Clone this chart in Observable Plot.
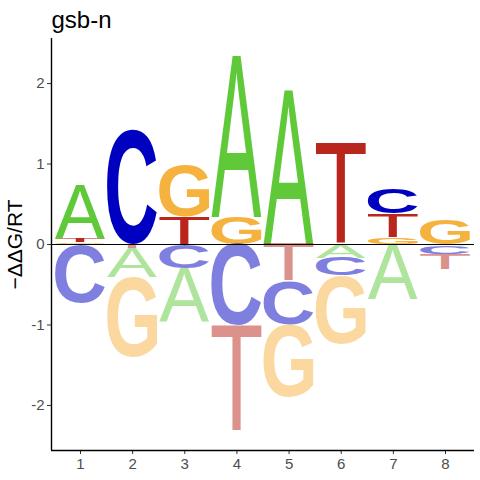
<!DOCTYPE html>
<html><head><meta charset="utf-8">
<script src="https://cdn.jsdelivr.net/npm/d3@7"></script>
<script src="https://cdn.jsdelivr.net/npm/@observablehq/plot@0.6"></script>
<style>body{margin:0;background:#fff} #chart{width:480px;height:480px}</style>
</head><body><div id="chart"></div>
<script>
const title = "gsb-n";
const yLabel = "\u2212\u0394\u0394G/RT";
const positions = [1, 2, 3, 4, 5, 6, 7, 8];
const letters = ["A", "C", "G", "T"];
const A = [0.675, -0.365, -0.67, 2.0, 1.906, -0.17, -0.68, -0.02];
const C = [-0.725, 1.42, -0.30, -1.01, -0.54, -0.22, 0.31, -0.10];
const G = [0.02, -0.995, 0.63, 0.34, -0.90, -0.85, 0.08, 0.31];
const T = [0.04, -0.05, 0.34, -1.32, -0.46, 1.26, 0.295, -0.19];
const yTicks = [-2, -1, 0, 1, 2];
const colors = {A: "#5FC93A", C: "#0000C0", G: "#F5B23F", T: "#B8261C"};
const weights = {A: "normal", C: "bold", G: "bold", T: "normal"};

const series = {A, C, G, T};
const rows = [];
positions.forEach((p, i) => {
  const vals = letters.map(l => ({letter: l, value: series[l][i]}));
  let top = 0, bot = 0;
  vals.filter(d => d.value > 0).sort((a, b) => a.value - b.value).forEach(d => {
    rows.push({pos: p, letter: d.letter, y1: top, y2: top + d.value, neg: false}); top += d.value;
  });
  vals.filter(d => d.value < 0).sort((a, b) => b.value - a.value).forEach(d => {
    rows.push({pos: p, letter: d.letter, y1: bot, y2: bot + d.value, neg: true}); bot += d.value;
  });
});

const FONT = "'Liberation Sans', Arial, sans-serif";
const ctx = document.createElement("canvas").getContext("2d");
const metrics = {};
letters.forEach(l => {
  ctx.font = `${weights[l]} 100px ${FONT}`;
  const m = ctx.measureText(l);
  metrics[l] = {L: m.actualBoundingBoxLeft, R: m.actualBoundingBoxRight, A: m.actualBoundingBoxAscent, D: m.actualBoundingBoxDescent};
});

function logoRender(index, scales, values) {
  const g = d3.create("svg:g");
  for (const i of index) {
    const x1 = values.x1[i], x2 = values.x2[i], ya = values.y1[i], yb = values.y2[i];
    const top = Math.min(ya, yb), h = Math.abs(yb - ya), w = Math.abs(x2 - x1), left = Math.min(x1, x2);
    if (!(h > 0)) continue;
    const d = rows[i], m = metrics[d.letter];
    const sx = w / (m.L + m.R), sy = h / (m.A + m.D);
    g.append("text")
      .attr("transform", `translate(${left},${top}) scale(${sx},${sy})`)
      .attr("x", m.L).attr("y", m.A)
      .attr("text-anchor", "start")
      .attr("font-family", FONT).attr("font-size", 100).attr("font-weight", weights[d.letter])
      .attr("fill", colors[d.letter]).attr("fill-opacity", d.neg ? 0.5 : 1)
      .text(d.letter);
  }
  return g.node();
}

const xMin = 0.444, xMax = 8.556, yMin = -2.56, yMax = 2.56;
const plot = Plot.plot({
  width: 480, height: 480,
  marginLeft: 51, marginRight: 6, marginTop: 38, marginBottom: 30,
  x: {domain: [xMin, xMax]},
  y: {domain: [yMin, yMax]},
  style: {fontFamily: FONT, fontSize: "15px", background: "#fff", overflow: "visible"},
  marks: [
    Plot.axisX({ticks: positions, tickFormat: d => String(d), tickSize: 4, tickPadding: 4, label: null, fill: "#4D4D4D", stroke: "#333333", fontSize: 15}),
    Plot.axisY({ticks: yTicks, tickFormat: d => String(d), tickSize: 4, tickPadding: 3, label: null, fill: "#4D4D4D", stroke: "#333333", fontSize: 15}),
    Plot.rect(rows, {x1: d => d.pos - 0.48, x2: d => d.pos + 0.48, y1: "y1", y2: "y2", render: logoRender}),
    Plot.ruleY([0], {stroke: "black", strokeWidth: 1}),
    Plot.ruleX([xMin], {stroke: "black", strokeWidth: 1.4}),
    Plot.ruleY([yMin], {stroke: "black", strokeWidth: 1.4}),
    Plot.text([title], {frameAnchor: "top-left", dx: 0, dy: -11, lineAnchor: "bottom", textAnchor: "start", fontSize: 24, fill: "black"}),
    Plot.text([yLabel], {frameAnchor: "left", dx: -36, rotate: -90, textAnchor: "middle", fontSize: 21, fill: "black"})
  ]
});
document.getElementById("chart").appendChild(plot);
</script>
</body></html>
